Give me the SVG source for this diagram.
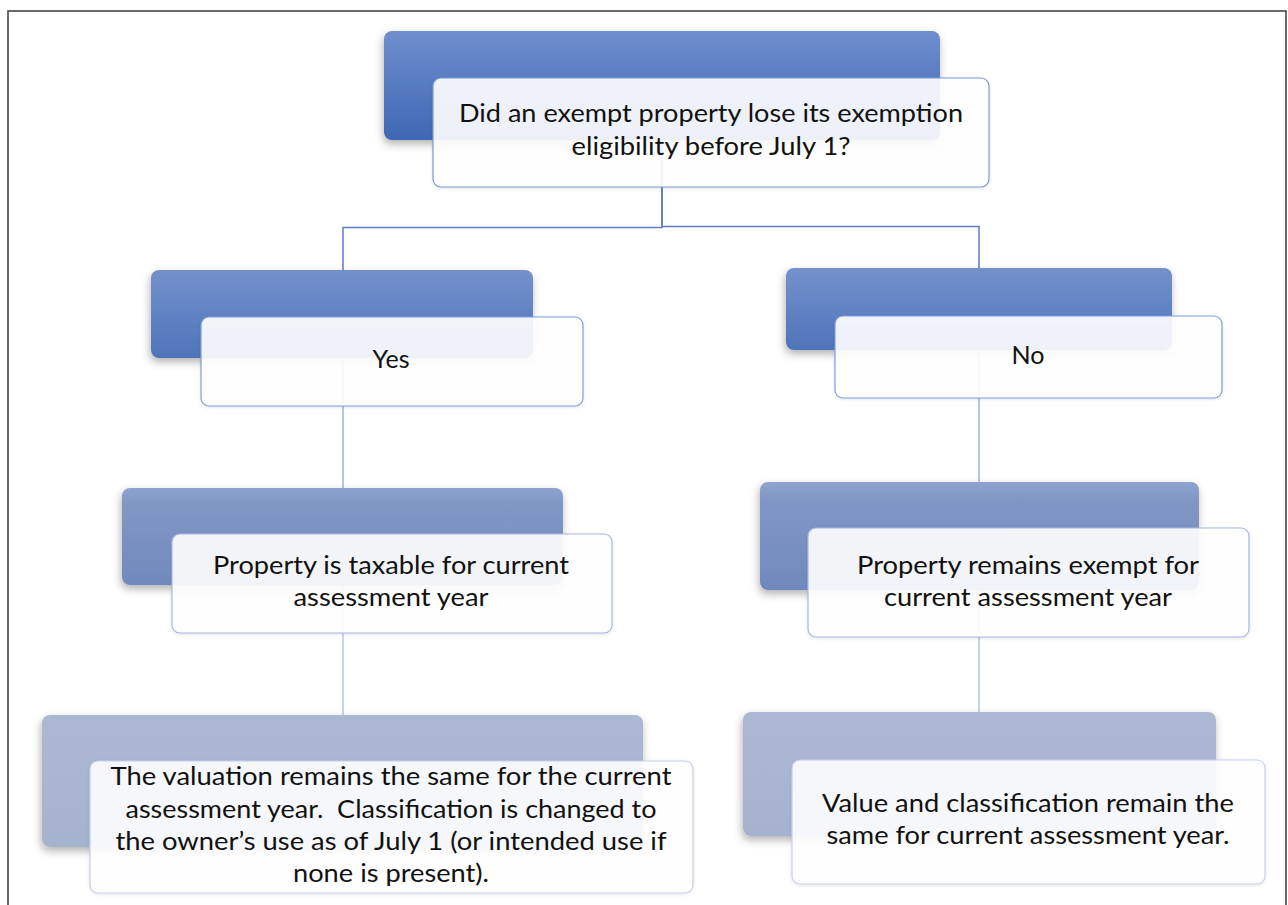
<svg xmlns="http://www.w3.org/2000/svg" width="1288" height="905" viewBox="0 0 1288 905">
  <defs>
    <linearGradient id="g1" x1="0" y1="0" x2="0" y2="1">
      <stop offset="0" stop-color="#6f8ecd"/>
      <stop offset="1" stop-color="#3e67b3"/>
    </linearGradient>
    <linearGradient id="g2" x1="0" y1="0" x2="0" y2="1">
      <stop offset="0" stop-color="#7491cc"/>
      <stop offset="1" stop-color="#4f74b9"/>
    </linearGradient>
    <linearGradient id="g3" x1="0" y1="0" x2="0" y2="1">
      <stop offset="0" stop-color="#8ea3cf"/>
      <stop offset="0.15" stop-color="#8198c5"/>
      <stop offset="1" stop-color="#7089bd"/>
    </linearGradient>
    <linearGradient id="g4" x1="0" y1="0" x2="0" y2="1">
      <stop offset="0" stop-color="#acb8d3"/>
      <stop offset="1" stop-color="#a6b3cf"/>
    </linearGradient>
    <filter id="shadow" x="-10%" y="-20%" width="120%" height="150%">
      <feDropShadow dx="-1" dy="4" stdDeviation="4" flood-color="#000" flood-opacity="0.3"/>
    </filter>
    <filter id="soft" x="-10%" y="-20%" width="120%" height="150%">
      <feDropShadow dx="0" dy="1" stdDeviation="1.5" flood-color="#000" flood-opacity="0.12"/>
    </filter>
  </defs>
  <style>
    .frame { fill: #ffffff; stroke: #3a3a3a; stroke-width: 1.5; }
    .back { filter: url(#shadow); }
    .front { fill: #ffffff; fill-opacity: 0.9; stroke-width: 1.2; filter: url(#soft); }
    .lbl { font-family: Lato, "Liberation Sans", sans-serif; font-size: 25px; fill: #111111; text-anchor: middle; white-space: pre; }
    .c1 { fill: none; stroke: #5b7ec4; stroke-width: 1.5; }
    .c2 { fill: none; stroke: #9fb1dc; stroke-width: 1.5; }
    .c3 { fill: none; stroke: #b9c4e1; stroke-width: 1.5; }
  </style>

  <rect class="frame" x="8" y="11" width="1278" height="910"/>

  <!-- connectors -->
  <g id="connectors">
    <path class="c1" d="M662 140 V227.5 H343 V270"/>
    <path class="c1" d="M662 140 V226.5 H979 V268"/>
    <path class="c2" d="M343 358 V488"/>
    <path class="c2" d="M979 350 V482"/>
    <path class="c3" d="M343 585 V715"/>
    <path class="c3" d="M979 590 V712"/>
  </g>

  <!-- level 1 -->
  <g id="question">
    <rect class="back" x="384" y="31" width="556" height="109" rx="8" fill="url(#g1)"/>
    <rect class="front" x="433" y="78" width="556" height="109" rx="8" stroke="#7b9ad6"/>
    <text class="lbl" x="711" y="122" textLength="504" lengthAdjust="spacingAndGlyphs">Did an exempt property lose its exemption</text>
    <text class="lbl" x="711" y="155" textLength="279" lengthAdjust="spacingAndGlyphs">eligibility before July 1?</text>
  </g>

  <!-- level 2 -->
  <g id="yes">
    <rect class="back" x="151" y="270" width="382" height="88" rx="8" fill="url(#g2)"/>
    <rect class="front" x="201" y="317" width="382" height="89" rx="8" stroke="#7e9de0"/>
    <text class="lbl" x="391" y="368" textLength="37" lengthAdjust="spacingAndGlyphs">Yes</text>
  </g>
  <g id="no">
    <rect class="back" x="786" y="268" width="386" height="82" rx="8" fill="url(#g2)"/>
    <rect class="front" x="835" y="316" width="387" height="82" rx="8" stroke="#7e9de0"/>
    <text class="lbl" x="1028" y="364" textLength="33" lengthAdjust="spacingAndGlyphs">No</text>
  </g>

  <!-- level 3 -->
  <g id="taxable">
    <rect class="back" x="122" y="488" width="441" height="97" rx="8" fill="url(#g3)"/>
    <rect class="front" x="172" y="534" width="440" height="99" rx="8" stroke="#a8b8e2"/>
    <text class="lbl" x="391" y="574" textLength="356" lengthAdjust="spacingAndGlyphs">Property is taxable for current</text>
    <text class="lbl" x="391" y="606" textLength="195" lengthAdjust="spacingAndGlyphs">assessment year</text>
  </g>
  <g id="exempt">
    <rect class="back" x="760" y="482" width="439" height="108" rx="8" fill="url(#g3)"/>
    <rect class="front" x="808" y="528" width="441" height="109" rx="8" stroke="#a8b8e2"/>
    <text class="lbl" x="1028" y="574" textLength="342" lengthAdjust="spacingAndGlyphs">Property remains exempt for</text>
    <text class="lbl" x="1028" y="606" textLength="288" lengthAdjust="spacingAndGlyphs">current assessment year</text>
  </g>

  <!-- level 4 -->
  <g id="valuation">
    <rect class="back" x="42" y="715" width="601" height="132" rx="8" fill="url(#g4)"/>
    <rect class="front" x="90" y="761" width="603" height="132" rx="8" stroke="#c5cfea"/>
    <text class="lbl" x="391" y="785" textLength="561" lengthAdjust="spacingAndGlyphs">The valuation remains the same for the current</text>
    <text class="lbl" x="391" y="818" textLength="531" lengthAdjust="spacingAndGlyphs">assessment year.  Classification is changed to</text>
    <text class="lbl" x="391" y="850" textLength="551" lengthAdjust="spacingAndGlyphs">the owner’s use as of July 1 (or intended use if</text>
    <text class="lbl" x="391" y="882" textLength="196" lengthAdjust="spacingAndGlyphs">none is present).</text>
  </g>
  <g id="unchanged">
    <rect class="back" x="743" y="712" width="473" height="124" rx="8" fill="url(#g4)"/>
    <rect class="front" x="792" y="760" width="473" height="124" rx="8" stroke="#c5cfea"/>
    <text class="lbl" x="1028" y="812" textLength="412" lengthAdjust="spacingAndGlyphs">Value and classification remain the</text>
    <text class="lbl" x="1028" y="844" textLength="403" lengthAdjust="spacingAndGlyphs">same for current assessment year.</text>
  </g>
</svg>
